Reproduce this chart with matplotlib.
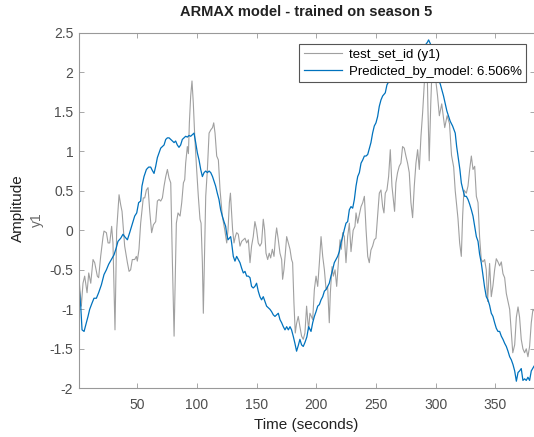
import matplotlib
matplotlib.use('Agg')
import matplotlib.pyplot as plt

# measured output (gray) - time, amplitude
t_meas = [1.2, 3.1, 4.5, 5.9, 7.9, 9.3, 11, 12.9, 14.3, 16.5, 17.6, 19.3, 21.3, 22.1, 24.1, 25.5,
          26.9, 28.5, 29.6, 31.3, 32.7, 34.7, 36.1, 37.2, 39.4, 41.7, 43.1, 44.4, 45.8, 47.8, 49.2,
          50, 51.4, 52.8, 55, 56.2, 57.6, 59, 60.4, 62, 63.5, 65.4, 66.8, 68.2, 69.6, 71, 72.4,
          73.8, 75.2, 76.6, 78, 79.4, 80.8, 81.6, 82.7, 84.1, 85.8, 87.2, 88.6, 89.7, 90.5, 91.9,
          92.8, 93.6, 94.7, 95.8, 96.9, 98.1, 99.7, 101.1, 102.5, 103.4, 104.5, 105.3, 106.2, 107.3,
          108.7, 110.1, 111.5, 113, 114, 115.1, 116.5, 117.9, 119.3, 121.2, 123.2, 124.9, 126,
          127.1, 128, 129.8, 131, 132.1, 133.2, 134.6, 136, 137.4, 138.8, 140.2, 141.6, 143, 144.4,
          145.7, 147.1, 148.5, 149.9, 151.3, 152.7, 154.1, 155.5, 156.6, 157.8, 159.2, 160.5, 161.7,
          163.1, 164.5, 165.8, 166.7, 168.1, 169.5, 170.9, 171.7, 172.8, 174, 175.1, 176.5, 177.9,
          179.2, 180.1, 181.2, 182.3, 183.4, 184.8, 186.2, 187.6, 189, 190.4, 191.8, 192.7, 193.5,
          194.6, 196.9, 198.3, 199.7, 201.1, 202.5, 203.9, 205.3, 206.7, 208.1, 209.4, 210.8, 211.7,
          213.1, 214.2, 215.6, 217, 218.4, 219.8, 220.9, 222, 223.4, 224.8, 226.2, 227.6, 229,
          230.8, 232.3, 233.2, 234.6, 236, 237.4, 238.8, 240.2, 241.6, 243, 244.3, 245.7, 247.1,
          248.5, 249.9, 251.3, 252.7, 254.1, 255.5, 256.6, 257.7, 259.1, 260.5, 261.9, 263.3, 264.7,
          265.5, 266.6, 268, 269.4, 270.8, 272.2, 273.6, 275, 276.4, 277.8, 279.2, 280.6, 282,
          283.4, 284.8, 286.2, 287.6, 289, 290.4, 291.5, 292.5, 293.5, 294.5, 295.8, 297, 298.5,
          300, 301.5, 303, 305, 307.5, 309.5, 311.5, 313.2, 315, 316.3, 318.6, 320, 321.4, 322.5,
          323.6, 325.6, 327, 328.4, 329.8, 331.2, 332.6, 334, 335.4, 336.7, 338.1, 339.5, 340.9,
          342.3, 343.4, 345.1, 346.5, 347.9, 349.3, 350.7, 352.1, 353.5, 354.9, 356.3, 357.7, 359.1,
          360.5, 361.9, 363.3, 364.5, 366.1, 367.5, 368.9, 370.2, 371.6, 373, 374.4, 375.8, 377.2,
          378.6, 380, 381.4, 382.5]
y_meas = [-0.62, -0.96, -0.67, -0.58, -0.79, -0.54, -0.67, -0.37, -0.41, -0.58, -0.60, -0.33, -0.08,
          -0.01, -0.03, -0.16, -0.16, 0.05, -0.16, -1.26, 0.0, 0.45, 0.32, 0.24, -0.2, -0.41, -0.52,
          -0.50, -0.37, -0.37, -0.33, -0.39, -0.24, 0.09, 0.41, 0.41, 0.51, 0.54, 0.24, -0.03, 0.07,
          0.11, 0.37, 0.39, 0.37, 0.41, 0.56, 0.68, 0.77, 0.66, 0.60, -0.41, -1.34, -0.75, 0.09,
          0.22, 0.18, 0.35, 0.60, 0.64, 0.85, 1.06, 0.97, 1.36, 1.70, 1.89, 1.61, 1.19, 0.77, 0.43,
          0.14, 0.09, -0.41, -1.05, -0.41, 0.43, 0.77, 1.23, 1.27, 1.30, 1.36, 1.23, 0.94, 0.89,
          0.51, 0.18, 0.01, -0.16, 0.01, 0.35, 0.47, 0.01, -0.16, -0.08, -0.03, -0.05, -0.2, -0.14,
          -0.12, -0.10, -0.16, -0.12, -0.41, -0.2, -0.08, 0.11, 0.01, -0.16, -0.2, -0.16, 0.14, 0.01,
          -0.29, -0.37, -0.29, -0.35, -0.24, -0.33, -0.08, 0.03, -0.12, -0.29, -0.37, -0.62, -0.50,
          -0.29, -0.08, -0.16, -0.24, -0.37, -0.41, -0.92, -1.30, -1.18, -1.09, -1.22, -1.34, -1.38,
          -1.30, -0.96, -1.13, -1.26, -1.05, -1.13, -0.75, -0.58, -0.71, -0.41, -0.08, -0.33, -0.50,
          -0.75, -0.71, -1.17, -0.79, -0.46, -0.58, -0.50, -0.71, -0.41, -0.12, -0.24, -0.03, -0.08,
          -0.41, -0.08, 0.09, -0.27, 0.0, 0.05, 0.22, 0.09, 0.20, 0.30, 0.35, 0.43, 0.01, -0.33,
          -0.41, -0.25, -0.20, -0.12, -0.10, 0.18, 0.47, 0.51, 0.30, 0.22, 0.47, 0.51, 0.68, 1.02,
          0.56, 0.35, 0.24, 0.60, 0.73, 0.81, 0.85, 1.06, 1.04, 0.94, 0.85, 0.73, 0.35, 0.16, 0.56,
          0.85, 1.02, 0.77, 1.19, 1.49, 1.86, 2.2, 2.25, 1.5, 0.88, 1.6, 2.1, 2.2, 1.9, 1.7, 1.45,
          1.6, 1.3, 1.45, 1.35, 0.95, 0.8, 0.5, 0.15, -0.16, -0.33, 0.18, 0.51, 0.47, 0.56, 0.77,
          0.94, 0.77, 0.81, 0.43, 0.35, -0.08, -0.37, -0.40, -0.37, -0.50, -0.9, -0.42, -0.84, -0.70,
          -0.50, -0.36, -0.40, -0.45, -0.40, -0.55, -0.6, -0.80, -0.90, -1.0, -1.3, -1.55, -1.45,
          -1.1, -0.97, -1.1, -1.38, -1.5, -1.55, -1.5, -1.6, -1.47, -1.17, -1.0, -1.02]

# ARMAX model prediction (blue)
t_pred = [1, 2.6, 3.7, 5.4, 7.3, 8.7, 10.1, 12.1, 13.7, 15.7, 17.6, 19.9, 22.1, 24.1, 26, 28.3, 30.5,
          32.4, 33.8, 36.1, 38, 39.4, 41.7, 43.6, 45.6, 47.8, 49.5, 51.1, 52.8, 53.9, 55.6, 57.6,
          59.5, 61.2, 62.5, 64, 65.4, 66.8, 68.2, 69.6, 71, 72.4, 73.8, 75.2, 76.6, 78, 79.4, 80.8,
          82.1, 83.5, 84.9, 86.3, 87.7, 89.1, 90.5, 91.9, 93.3, 94.7, 96.1, 97.5, 98.9, 100.3, 101.7,
          103.1, 104.5, 105.9, 107.3, 108.7, 110.1, 111.5, 113, 114.3, 115.6, 117, 118.4, 119.8,
          121.2, 122.6, 124, 124.9, 126, 127.1, 128.2, 129, 130.4, 131.8, 133.2, 134.6, 136, 137.4,
          138.8, 140.2, 141.6, 143, 144.4, 145.7, 147.1, 148.5, 149.9, 151.3, 152.7, 154.1, 155.5,
          156.9, 158.3, 159.7, 161.1, 162.5, 163.9, 165.3, 166.7, 168.1, 169.5, 170.9, 172.3, 173.7,
          175.1, 176.5, 177.9, 179.2, 180.6, 182, 183.4, 184.8, 186.2, 187.6, 189, 190.4, 192,
          193.5, 195.5, 196.9, 198.3, 199.7, 201.1, 202.5, 203.9, 205.3, 206.7, 208.1, 209.4, 210.8,
          212.2, 213.6, 215, 216.4, 217.8, 219.2, 220.6, 222, 223.4, 224.8, 226.2, 227.6, 229, 230.4,
          231.8, 233.2, 234.6, 236, 237.4, 238.8, 240.2, 241.6, 243, 244.3, 245.7, 247.1, 248.5,
          249.9, 251.3, 252.7, 254.1, 255.5, 256.6, 257.7, 259.1, 263, 268, 273, 278, 283, 288, 291,
          293, 294, 295.5, 297.5, 300, 302, 303.8, 306.5, 309.3, 312.1, 314.1, 316.3, 317.5, 319,
          320.2, 321.4, 322.8, 324.2, 325.6, 327, 328.4, 329.8, 331.2, 332.6, 334, 335.4, 336.7,
          338.1, 339.5, 340.9, 342.3, 343.7, 345.1, 346.5, 347.9, 349.3, 350.7, 352.1, 353.5, 354.9,
          356.3, 357.7, 359.1, 360.5, 361.9, 363.3, 364.7, 366.1, 367.5, 368.9, 370.2, 371.6, 373,
          374.4, 375.8, 377.2, 378.6, 380, 382.3]
y_pred = [-0.68, -0.96, -1.26, -1.28, -1.17, -1.09, -1.0, -0.92, -0.86, -0.86, -0.79, -0.69, -0.56,
          -0.50, -0.43, -0.37, -0.31, -0.22, -0.14, -0.10, -0.05, -0.08, -0.12, -0.03, 0.07, 0.18,
          0.22, 0.35, 0.37, 0.56, 0.68, 0.77, 0.80, 0.80, 0.76, 0.72, 0.81, 0.92, 0.98, 1.04, 1.06,
          1.08, 1.15, 1.17, 1.17, 1.15, 1.13, 1.11, 1.13, 1.08, 1.05, 1.08, 1.15, 1.17, 1.19, 1.18,
          1.20, 1.19, 1.21, 1.23, 1.11, 0.98, 0.89, 0.77, 0.68, 0.73, 0.75, 0.73, 0.75, 0.73, 0.68,
          0.62, 0.56, 0.47, 0.39, 0.26, 0.18, 0.11, 0.05, -0.05, -0.12, -0.10, -0.08, -0.16, -0.33,
          -0.39, -0.33, -0.37, -0.41, -0.48, -0.54, -0.52, -0.58, -0.58, -0.60, -0.71, -0.73, -0.71,
          -0.67, -0.77, -0.84, -0.88, -0.84, -0.90, -0.96, -0.98, -1.0, -1.03, -1.07, -1.09, -1.07,
          -1.05, -1.13, -1.17, -1.22, -1.26, -1.22, -1.26, -1.22, -1.26, -1.34, -1.43, -1.53, -1.46,
          -1.38, -1.45, -1.47, -1.42, -1.35, -1.22, -1.28, -1.17, -1.09, -1.03, -0.96, -0.94, -0.88,
          -0.84, -0.77, -0.75, -0.71, -0.67, -0.58, -0.50, -0.41, -0.37, -0.33, -0.27, -0.16, -0.08,
          0.01, 0.09, 0.11, 0.26, 0.30, 0.28, 0.39, 0.56, 0.68, 0.73, 0.85, 0.89, 0.94, 0.94, 0.96,
          1.03, 1.11, 1.23, 1.32, 1.36, 1.44, 1.57, 1.65, 1.70, 1.72, 1.74, 1.84, 1.95, 2.05, 2.12,
          2.18, 2.25, 2.3, 2.34, 2.38, 2.41, 2.36, 2.2, 2.05, 1.92, 1.85, 1.70, 1.51, 1.38, 1.32,
          1.23, 1.06, 0.90, 0.77, 0.6, 0.51, 0.43, 0.43, 0.39, 0.33, 0.26, 0.18, 0.05, -0.08, -0.14,
          -0.30, -0.41, -0.56, -0.72, -0.84, -0.88, -0.95, -1.05, -1.09, -1.17, -1.24, -1.28, -1.28,
          -1.34, -1.38, -1.43, -1.47, -1.53, -1.60, -1.64, -1.70, -1.78, -1.91, -1.80, -1.78, -1.75,
          -1.90, -1.88, -1.90, -1.86, -1.90, -1.78, -1.72]

y_ticks = [-2, -1.5, -1, -0.5, 0, 0.5, 1, 1.5, 2, 2.5]
x_ticks = [50, 100, 150, 200, 250, 300, 350]

plt.rcParams['font.family'] = ['Liberation Sans', 'DejaVu Sans']

fig = plt.figure(figsize=(5.34, 4.37), dpi=100)
ax = fig.add_axes([0.1476, 0.1114, 0.854, 0.8136])

ax.plot(t_meas, y_meas, color='#a0a0a0', lw=0.8, label='test_set_id (y1)')
ax.plot(t_pred, y_pred, color='#0072BD', lw=0.9, label='Predicted_by_model: 6.506%')

ax.set_xlim(1, 383)
ax.set_ylim(-2, 2.5)
ax.set_xticks(x_ticks)
ax.set_yticks(y_ticks)
ax.set_yticklabels([f'{v:g}' for v in y_ticks])
ax.tick_params(direction='in', length=3.5, width=0.6, colors='#999999', labelcolor='#4d4d4d',
               labelsize=10, top=True, right=True)
ax.tick_params(axis='y', pad=4)
ax.tick_params(axis='x', pad=7)
for s in ax.spines.values():
    s.set_color('#999999')
    s.set_linewidth(0.8)

leg = ax.legend(loc='upper right', bbox_to_anchor=(0.981, 0.968), borderaxespad=0,
                fancybox=False, framealpha=1, edgecolor='#555555', fontsize=9.5,
                handlelength=2.9, borderpad=0.35, labelspacing=0.35, handletextpad=0.5)
leg.get_frame().set_linewidth(0.8)

fig.text(0.574, 0.972, 'ARMAX model - trained on season 5', ha='center', va='center',
         fontsize=10.5, fontweight='bold', color='#222222')
fig.text(0.574, 0.028, 'Time (seconds)', ha='center', va='center', fontsize=11, color='#222222')
fig.text(0.033, 0.524, 'Amplitude', ha='center', va='center', rotation=90, fontsize=11,
         color='#222222')
fig.text(0.070, 0.497, 'y1', ha='center', va='center', rotation=90, fontsize=10, color='#666666')

fig.savefig('out.png', dpi=100)
